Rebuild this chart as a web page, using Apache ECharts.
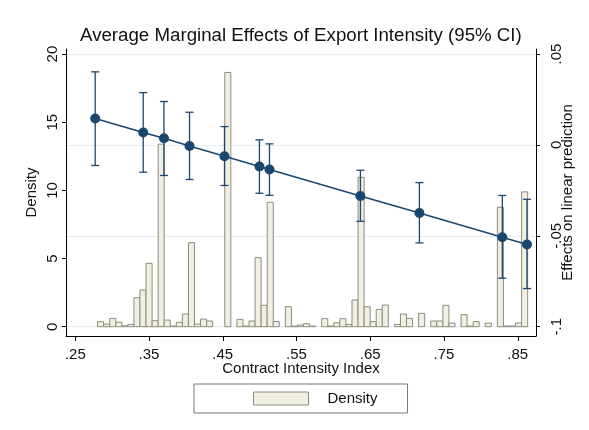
<!DOCTYPE html>
<html>
<head>
<meta charset="utf-8">
<script src="https://cdn.jsdelivr.net/npm/echarts@6/dist/echarts.min.js"></script>
<style>html,body{margin:0;padding:0;background:#fff;}#c{width:589px;height:430px;}</style>
</head>
<body>
<div id="c"></div>
<script>
// ---- data ----
const binStart = 0.2802;
const binWidth = 0.008214;
const density = [0.37,0.2,0.61,0.34,0.07,0.17,2.13,2.69,4.65,0.44,
  13.39,0.49,0.05,0.32,0.93,6.17,0.2,0.56,0.42,0,
  0,18.65,0,0.54,0.05,0.42,5.07,1.57,9.13,0.37,
  0,1.47,0.05,0.12,0.22,0.05,0,0.59,0.05,0.29,
  0.59,0.17,1.96,10.96,1.47,0.37,1.27,1.59,0,0.17,
  0.93,0.61,0,0.98,0,0.42,0.42,1.57,0.27,0,
  0.88,0.05,0.37,0,0.27,0,8.76,0.05,0.05,0.27,9.89];
const meX  = [0.277,0.3421,0.3702,0.4049,0.4523,0.4997,0.5133,0.6366,0.7166,0.829,0.8625];
const meY  = [0.0145,0.0068,0.0037,-0.0006,-0.0062,-0.0119,-0.0135,-0.0281,-0.0374,-0.0508,-0.0548];
const meLo = [-0.0113,-0.0150,-0.0168,-0.0190,-0.0223,-0.0266,-0.0277,-0.0420,-0.0539,-0.0733,-0.0790];
const meHi = [0.0402,0.0288,0.0239,0.0180,0.0101,0.0028,0.0006,-0.0139,-0.0207,-0.0278,-0.0299];
const xTicks = [0.25,0.35,0.45,0.55,0.65,0.75,0.85];
const xTickLabels = ['.25','.35','.45','.55','.65','.75','.85'];
const leftTicks = [0,5,10,15,20];
const leftTickLabels = ['0','5','10','15','20'];
const rightTicks = [-0.1,-0.05,0,0.05];
const rightTickLabels = ['-.1','-.05','0','.05'];

// ---- build ----
const histData = density.map((d,i)=>[binStart+i*binWidth, binStart+(i+1)*binWidth, d]);
const lineData = meX.map((x,i)=>[x, meY[i]]);
const ciData = meX.map((x,i)=>[x, meLo[i], meHi[i]]);
const navy = '#1a476f';
const FONT = 'Liberation Sans, Arial, sans-serif';
function lab(ticks, labels){ return v => { const i = ticks.findIndex(t=>Math.abs(t-v)<1e-9); return i>=0?labels[i]:''; }; }

const chart = echarts.init(document.getElementById('c'), null, {renderer:'canvas'});
chart.setOption({
  animation:false,
  backgroundColor:'#fff',
  textStyle:{fontFamily:FONT},
  title:{text:'Average Marginal Effects of Export Intensity (95% CI)', left:75, top:21,
    textStyle:{fontFamily:FONT, fontSize:18.7, fontWeight:'normal', color:'#111'}},
  grid:{left:66, right:53, top:49, bottom:94, containLabel:false, outerBoundsMode:'none'},
  legend:{
    left:194, top:384, orient:'horizontal',
    padding:[7,30,7,59], borderColor:'#777', borderWidth:1, backgroundColor:'#fff',
    itemWidth:55, itemHeight:13,
    textStyle:{fontFamily:FONT, fontSize:15, color:'#111', padding:[0,0,0,14]},
    data:[{name:'Density', icon:'rect', itemStyle:{color:'#f0efe2', borderColor:'#8c8c80', borderWidth:1}}]
  },
  xAxis:{type:'value', min:0.2374, max:0.8747,
    name:'Contract Intensity Index', nameLocation:'middle', nameGap:25, nameMoveOverlap:false,
    nameTextStyle:{fontFamily:FONT, fontSize:15, color:'#111'},
    axisLine:{show:true, onZero:false, lineStyle:{color:'#000', width:1}},
    axisTick:{show:true, length:5, customValues:xTicks, lineStyle:{color:'#000'}},
    axisLabel:{customValues:xTicks, formatter:lab(xTicks,xTickLabels), margin:11, fontFamily:FONT, fontSize:15, color:'#111'},
    splitLine:{show:false}},
  yAxis:[
    {type:'value', position:'left', min:-0.68, max:20.37,
     name:'Density', nameLocation:'middle', nameGap:27, nameRotate:90, nameMoveOverlap:false,
     nameTextStyle:{fontFamily:FONT, fontSize:15, color:'#111'},
     axisLine:{show:true, onZero:false, lineStyle:{color:'#000'}},
     axisTick:{show:true, length:4, customValues:leftTicks, lineStyle:{color:'#000'}},
     axisLabel:{customValues:leftTicks, formatter:lab(leftTicks,leftTickLabels), rotate:90, margin:6, fontFamily:FONT, fontSize:15, color:'#111'},
     splitLine:{show:false}},
    {type:'value', position:'right', min:-0.1051, max:0.05278,
     name:'Effects on linear prediction', nameLocation:'middle', nameGap:24, nameRotate:90, nameMoveOverlap:false,
     nameTextStyle:{fontFamily:FONT, fontSize:15, color:'#111'},
     axisLine:{show:true, onZero:false, lineStyle:{color:'#000'}},
     axisTick:{show:true, length:4, customValues:rightTicks, lineStyle:{color:'#000'}},
     axisLabel:{customValues:rightTicks, formatter:lab(rightTicks,rightTickLabels), rotate:90, margin:13, fontFamily:FONT, fontSize:15, color:'#111'},
     splitLine:{show:true, lineStyle:{color:'#e4eef1', width:1}}}
  ],
  series:[
    {name:'Density', type:'custom', xAxisIndex:0, yAxisIndex:0, z:2,
     data:histData,
     renderItem:(params, api)=>{
       const h = api.value(2);
       if (h<=0) return null;
       const p0 = api.coord([api.value(0), 0]);
       const p1 = api.coord([api.value(1), h]);
       return {type:'rect', shape:{x:p0[0], y:p1[1], width:p1[0]-p0[0], height:p0[1]-p1[1]},
         style:{fill:'#f0efe2', stroke:'#8c8c80', lineWidth:1}};
     }},
    {name:'ci', type:'custom', xAxisIndex:0, yAxisIndex:1, z:3,
     data:ciData,
     renderItem:(params, api)=>{
       const x = api.value(0);
       const a = api.coord([x, api.value(1)]);
       const b = api.coord([x, api.value(2)]);
       const hw = 4;
       const st = {stroke:navy, lineWidth:1.3};
       return {type:'group', children:[
         {type:'line', shape:{x1:a[0],y1:a[1],x2:b[0],y2:b[1]}, style:st},
         {type:'line', shape:{x1:a[0]-hw,y1:a[1],x2:a[0]+hw,y2:a[1]}, style:st},
         {type:'line', shape:{x1:b[0]-hw,y1:b[1],x2:b[0]+hw,y2:b[1]}, style:st}
       ]};
     }},
    {name:'me', type:'line', xAxisIndex:0, yAxisIndex:1, z:4,
     data:lineData, symbol:'circle', symbolSize:10, showSymbol:true,
     lineStyle:{color:navy, width:1.5}, itemStyle:{color:navy, borderWidth:0}}
  ]
});
</script>
</body>
</html>
